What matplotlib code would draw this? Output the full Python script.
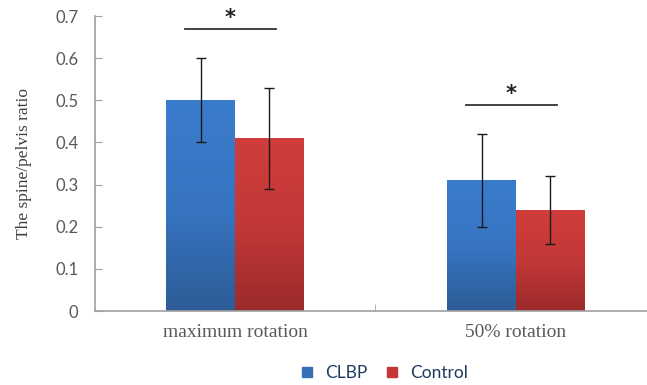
import numpy as np
import matplotlib
matplotlib.use("Agg")
import matplotlib.pyplot as plt
from matplotlib.colors import LinearSegmentedColormap
from matplotlib.lines import Line2D

# data
categories = ['maximum rotation', '50% rotation']
clbp = [0.50, 0.31]
clbp_err = [0.10, 0.11]
control = [0.41, 0.24]
control_err = [0.12, 0.08]
sig_height = [0.67, 0.49]

fig = plt.figure(figsize=(6.47, 3.85), dpi=100)
ax = fig.add_axes([0.1468, 0.1922, 0.8532, 0.7662])

x = np.arange(len(categories))
w = 0.245

blue_cmap = LinearSegmentedColormap.from_list('b', ['#2d5c97', '#3775c2', '#3a7ccc'])
red_cmap = LinearSegmentedColormap.from_list('r', ['#9a2b2a', '#c23837', '#d03d3b'])
grad = np.linspace(0, 1, 256).reshape(-1, 1)

def gradient_bars(xs, vals, cmap):
    bars = ax.bar(xs, vals, w, color='none', edgecolor='none', zorder=2)
    for b in bars:
        x0, y0 = b.get_x(), b.get_y()
        im = ax.imshow(grad, cmap=cmap, origin='lower', aspect='auto',
                       extent=[x0, x0 + b.get_width(), y0, y0 + b.get_height()],
                       zorder=2)
        im.set_clip_path(b)
    return bars

gradient_bars(x - w / 2, clbp, blue_cmap)
gradient_bars(x + w / 2, control, red_cmap)

ax.errorbar(x - w / 2, clbp, yerr=clbp_err, fmt='none', ecolor='#1a1a1a',
            elinewidth=1, capsize=3.5, capthick=1, zorder=3)
ax.errorbar(x + w / 2, control, yerr=control_err, fmt='none', ecolor='#1a1a1a',
            elinewidth=1, capsize=3.5, capthick=1, zorder=3)

# significance marks
for xi, h in zip(x, sig_height):
    ax.plot([xi - 0.177, xi + 0.147], [h, h], color='#333333', lw=1.3, zorder=3)
    ax.text(xi - 0.018, h + 0.025, '*', ha='center', va='center', fontsize=15,
            color='#222222', family='DejaVu Sans', fontweight='bold')

ax.set_xlim(-0.498, 1.466)
ax.set_ylim(0, 0.7)
ax.set_yticks(np.arange(0, 0.71, 0.1))
ax.set_yticklabels(['0', '0.1', '0.2', '0.3', '0.4', '0.5', '0.6', '0.7'],
                   family='Lato', fontsize=12, color='#595959')
ax.set_xticks([0.5], minor=True)
ax.set_xticks(x)
ax.set_xticklabels(categories, family='Liberation Serif', fontsize=14, color='#595959')
ax.tick_params(axis='x', which='major', length=0, pad=9)
ax.tick_params(axis='x', which='minor', direction='in', length=5, color='#a0a0a0')
ax.tick_params(axis='y', direction='in', length=5, color='#a0a0a0', pad=12)

for s in ['top', 'right']:
    ax.spines[s].set_visible(False)
for s in ['left', 'bottom']:
    ax.spines[s].set_color('#a0a0a0')
    ax.spines[s].set_linewidth(1.2)

ax.set_ylabel('The spine/pelvis ratio', family='Liberation Serif', fontsize=12.5,
              color='#404040', labelpad=17)

handles = [Line2D([], [], marker='s', ls='none', color='#3670b8', markersize=7),
           Line2D([], [], marker='s', ls='none', color='#c53634', markersize=7)]
fig.legend(handles, ['CLBP', 'Control'], loc='center', bbox_to_anchor=(0.585, 0.03),
           ncol=2, frameon=False, handletextpad=0.05, columnspacing=0.4,
           prop={'family': 'Lato', 'size': 12.5}, labelcolor='#1f3a60')

fig.savefig('out.png', dpi=100)
